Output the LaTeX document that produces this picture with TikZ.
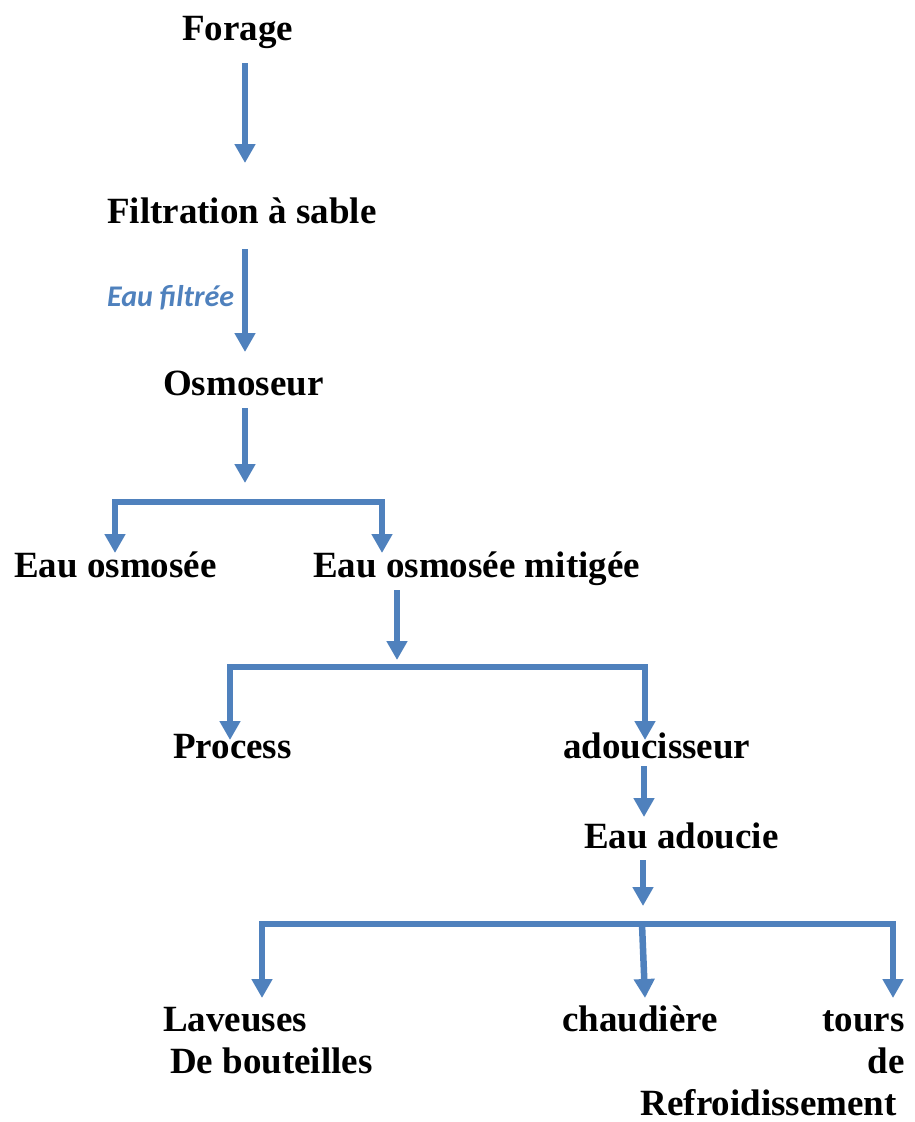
\documentclass[tikz,border=0pt]{standalone}
\usepackage{fontspec}
\setmainfont{Liberation Serif}
\newfontfamily\calib{Carlito}
\usetikzlibrary{arrows.meta}
\definecolor{flow}{HTML}{4F81BD}
\begin{document}
\begin{tikzpicture}[x=1pt,y=-1pt,
  lbl/.style={font=\fontsize{37}{42}\selectfont\bfseries, inner sep=0pt, anchor=base west},
  lblr/.style={font=\fontsize{37}{42}\selectfont\bfseries, inner sep=0pt, anchor=base east},
  flowline/.style={draw=flow, line width=6.5pt},
  arr/.style={flowline, -{Triangle[width=20pt,length=19pt]}},
  arr2/.style={flowline, {Triangle[width=20pt,length=19pt]}-{Triangle[width=20pt,length=19pt]}},
 ]
\useasboundingbox (0,0) rectangle (915,1122);

% labels
\node[lbl] (forage) at (182,40) {Forage};
\node[lbl] (filtr) at (107,223) {Filtration à sable};
\node[font={\fontsize{30}{33}\calib\bfseries\itshape}, text=flow, inner sep=0pt, anchor=base west] (eauf) at (107,306) {Eau filtrée};
\node[lbl] (osm) at (163,395) {Osmoseur};
\node[lbl] (eosm) at (14,577) {Eau osmosée};
\node[lbl] (eosmm) at (313,577) {Eau osmosée mitigée};
\node[lbl] (proc) at (173,758) {Process};
\node[lbl] (adou) at (563,758) {adoucisseur};
\node[lbl] (eadou) at (584,848) {Eau adoucie};
\node[lbl] (lav1) at (163,1031) {Laveuses};
\node[lbl] (lav2) at (170,1073) {De bouteilles};
\node[lbl] (chaud) at (562,1031) {chaudière};
\node[lblr] (tours1) at (905,1031) {tours};
\node[lblr] (tours2) at (905,1073) {de};
\node[lblr] (tours3) at (897,1115) {Refroidissement};

% junction / end coordinates
\coordinate (a1s) at (245,63);   \coordinate (a1e) at (245,163);
\coordinate (a2s) at (245,249);  \coordinate (a2e) at (245,352);
\coordinate (a3s) at (245,408);  \coordinate (a3e) at (245,483);
\coordinate (b1l) at (115,553);  \coordinate (b1a) at (115,502);
\coordinate (b1b) at (382,502);  \coordinate (b1r) at (382,553);
\coordinate (a4s) at (397,590);  \coordinate (a4e) at (397,660);
\coordinate (b2l) at (230,740);  \coordinate (b2a) at (230,667);
\coordinate (b2b) at (645,667);  \coordinate (b2r) at (645,740);
\coordinate (a5s) at (644,766);  \coordinate (a5e) at (644,817);
\coordinate (a6s) at (643,860);  \coordinate (a6e) at (643,906);
\coordinate (b3l) at (262,998);  \coordinate (b3a) at (262,924);
\coordinate (b3b) at (893,924);  \coordinate (b3r) at (893,998);
\coordinate (b3m) at (642,924);  \coordinate (b3me) at (645,998);

% connectors
\draw[arr] (a1s) -- (a1e);
\draw[arr] (a2s) -- (a2e);
\draw[arr] (a3s) -- (a3e);
\draw[arr2] (b1l) -- (b1a) -- (b1b) -- (b1r);
\draw[arr] (a4s) -- (a4e);
\draw[arr2] (b2l) -- (b2a) -- (b2b) -- (b2r);
\draw[arr] (a5s) -- (a5e);
\draw[arr] (a6s) -- (a6e);
\draw[arr2] (b3l) -- (b3a) -- (b3b) -- (b3r);
\draw[arr] (b3m) -- (b3me);
\end{tikzpicture}
\end{document}
